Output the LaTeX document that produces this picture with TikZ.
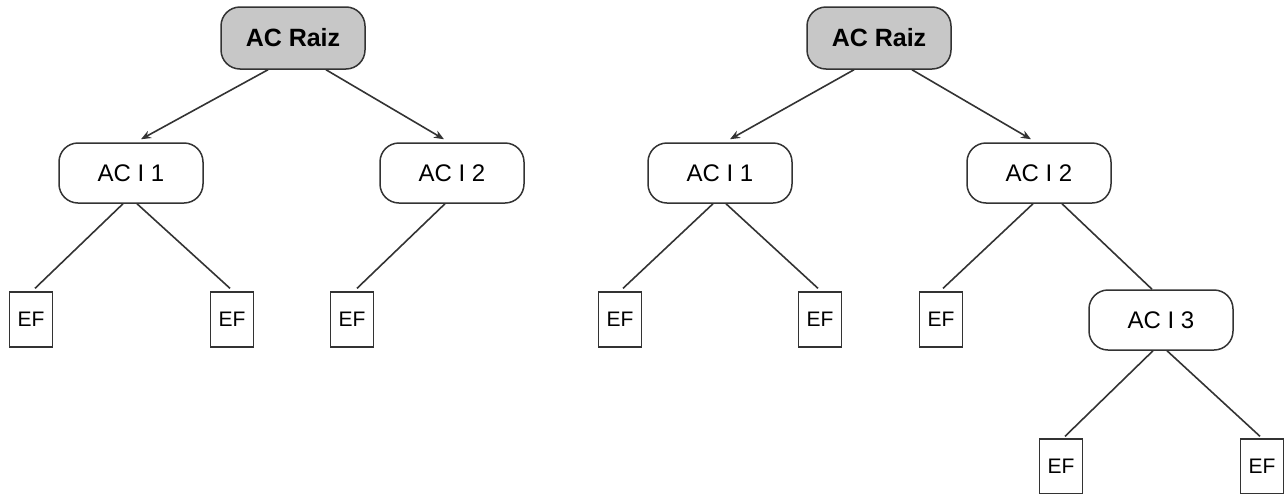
\documentclass[tikz,border=0pt]{standalone}
\usepackage{fontspec}
\setmainfont{Liberation Sans}
\usetikzlibrary{arrows.meta}
\begin{document}
\begin{tikzpicture}[x=1pt,y=-1pt,
  ca/.style={draw=black!80, line width=1.5pt, rounded corners=19pt,
    minimum width=144pt, minimum height=60pt, inner sep=0pt,
    font=\fontsize{24}{28}\selectfont},
  root/.style={ca, fill=black!22, minimum height=62pt,
    font=\fontsize{25}{30}\selectfont\bfseries},
  ef/.style={draw=black!80, line width=1.3pt, minimum width=43pt,
    minimum height=55pt, inner sep=0pt, font=\fontsize{21}{24}\selectfont},
  link/.style={draw=black!80, line width=1.6pt},
  arr/.style={link, -{Stealth[length=10pt,width=8pt]}}
]
\useasboundingbox (0,0) rectangle (1284,493);

% left hierarchy
\node[root] (rA) at (293,38) {AC Raiz};
\node[ca] (a1) at (131,173) {AC I 1};
\node[ca] (a2) at (452,173) {AC I 2};
\node[ef] (e1) at (31,319.5) {EF};
\node[ef] (e2) at (232,319.5) {EF};
\node[ef] (e3) at (352,319.5) {EF};

\draw[arr] ([xshift=-25pt]rA.south) -- ([xshift=10pt,yshift=3pt]a1.north);
\draw[arr] ([xshift=33pt]rA.south) -- ([xshift=-8pt,yshift=3pt]a2.north);
\draw[link] ([xshift=-8pt]a1.south) -- ([xshift=4pt,yshift=3pt]e1.north);
\draw[link] ([xshift=6pt]a1.south) -- ([xshift=-2pt,yshift=3pt]e2.north);
\draw[link] ([xshift=-7pt]a2.south) -- ([xshift=5pt,yshift=3pt]e3.north);

% right hierarchy
\node[root] (rB) at (879,38) {AC Raiz};
\node[ca] (b1) at (720,173) {AC I 1};
\node[ca] (b2) at (1039,173) {AC I 2};
\node[ca] (b3) at (1161,320) {AC I 3};
\node[ef] (f1) at (620,319.5) {EF};
\node[ef] (f2) at (820,319.5) {EF};
\node[ef] (f3) at (941,319.5) {EF};
\node[ef] (f4) at (1061,466.5) {EF};
\node[ef] (f5) at (1262,466.5) {EF};

\draw[arr] ([xshift=-25pt]rB.south) -- ([xshift=10pt,yshift=3pt]b1.north);
\draw[arr] ([xshift=33pt]rB.south) -- ([xshift=-8pt,yshift=3pt]b2.north);
\draw[link] ([xshift=-7pt]b1.south) -- ([xshift=3pt,yshift=3pt]f1.north);
\draw[link] ([xshift=6pt]b1.south) -- ([xshift=-2pt,yshift=3pt]f2.north);
\draw[link] ([xshift=-6pt]b2.south) -- ([xshift=2pt,yshift=3pt]f3.north);
\draw[link] ([xshift=23pt]b2.south) -- ([xshift=-9pt]b3.north);
\draw[link] ([xshift=-8pt]b3.south) -- ([xshift=4pt,yshift=2pt]f4.north);
\draw[link] ([xshift=6pt]b3.south) -- ([xshift=-2pt,yshift=2pt]f5.north);
\end{tikzpicture}
\end{document}
